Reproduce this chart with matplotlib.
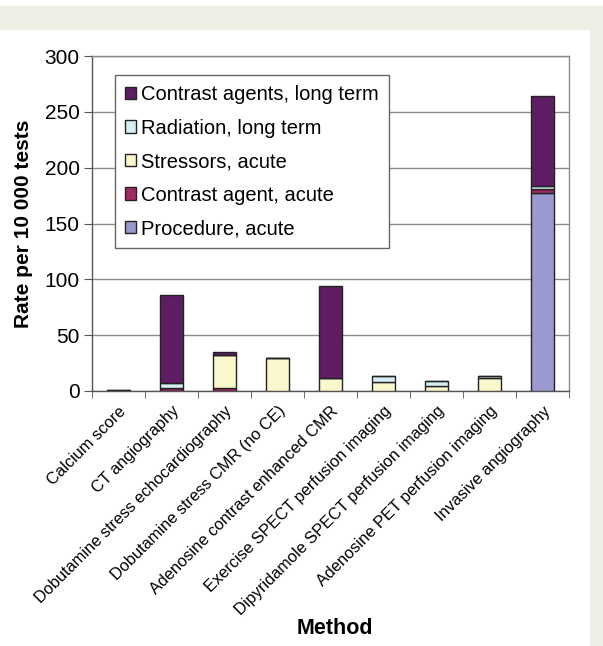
import matplotlib
matplotlib.use("Agg")
import matplotlib.pyplot as plt
import numpy as np
from matplotlib.patches import Rectangle

plt.rcParams['font.family'] = ['Liberation Sans', 'DejaVu Sans']

methods = ["Calcium score", "CT angiography", "Dobutamine stress echocardiography",
           "Dobutamine stress CMR (no CE)", "Adenosine contrast enhanced CMR",
           "Exercise SPECT perfusion imaging", "Dipyridamole SPECT perfusion imaging",
           "Adenosine PET perfusion imaging", "Invasive angiography"]

procedure_acute = [0, 0, 0, 0, 0, 0, 0, 0, 177]
contrast_acute = [0, 3, 3, 0, 0, 0, 0, 0, 3.5]
stressors_acute = [0, 0, 29, 30, 12, 8, 4.5, 12, 0]
radiation_long = [1, 4, 0, 0, 0, 5.5, 4.5, 1, 3.5]
contrast_long = [0, 79, 3, 0, 82, 0, 0, 0, 80]

series = [
    ("Procedure, acute", procedure_acute, "#9a9ad0"),
    ("Contrast agent, acute", contrast_acute, "#a02a62"),
    ("Stressors, acute", stressors_acute, "#fbf7cc"),
    ("Radiation, long term", radiation_long, "#d5eef2"),
    ("Contrast agents, long term", contrast_long, "#5f1e63"),
]

W, H = 603, 646
fig = plt.figure(figsize=(W / 100, H / 100), dpi=100)
fig.patch.set_facecolor("white")
beige = "#efeee4"
fig.patches.append(Rectangle((0, 1 - 30 / H), 1, 24 / H, transform=fig.transFigure,
                             facecolor=beige, edgecolor="none", zorder=0))
fig.patches.append(Rectangle((590 / W, 0), 13 / W, 1 - 30 / H, transform=fig.transFigure,
                             facecolor=beige, edgecolor="none", zorder=0))

ax = fig.add_axes([92 / W, 1 - 391 / H, 477 / W, 335 / H])
x = np.arange(len(methods))
bottom = np.zeros(len(methods))
handles = []
for name, vals, col in series:
    v = np.array(vals, dtype=float)
    b = ax.bar(x, v, bottom=bottom, width=0.42, color=col, edgecolor="#222222",
               linewidth=1.0, label=name, zorder=3)
    handles.append(b)
    bottom += v

ax.set_xlim(-0.5, len(methods) - 0.5)
ax.set_ylim(0, 300)
ax.set_yticks(np.arange(0, 301, 50))
ax.yaxis.grid(True, color="#8a8a8a", linewidth=1.0, zorder=0)
ax.set_axisbelow(True)
for s in ax.spines.values():
    s.set_color("#555555")
    s.set_linewidth(1.0)
ax.spines['top'].set_color("#8a8a8a")
ax.spines['right'].set_color("#8a8a8a")

ax.set_xticks(x)
ax.set_xticklabels(methods, rotation=45, ha="right", rotation_mode="anchor", fontsize=11.8)
ax.tick_params(axis="x", which="major", length=0, pad=9)
ax.set_xticks(np.arange(-0.5, len(methods), 1), minor=True)
ax.tick_params(axis="x", which="minor", length=5, color="#555555", direction="out")
ax.tick_params(axis="y", length=6, color="#555555", labelsize=15, pad=3)

ax.set_ylabel("Rate per 10 000 tests", fontsize=15, fontweight="bold", labelpad=8)
fig.text(335 / W, 1 - 628 / H, "Method", fontsize=15.5, fontweight="bold",
         ha="center", va="center")

leg = ax.legend(handles[::-1], [s[0] for s in series][::-1], loc="upper left",
                bbox_to_anchor=(0.048, 0.943), borderaxespad=0, fontsize=14.5,
                frameon=True, fancybox=False,
                edgecolor="#666666", handlelength=0.55, handleheight=0.55,
                handletextpad=0.25, labelspacing=0.72, borderpad=0.5, framealpha=1)
leg.get_frame().set_linewidth(1.0)

fig.savefig("out.png", dpi=100)
